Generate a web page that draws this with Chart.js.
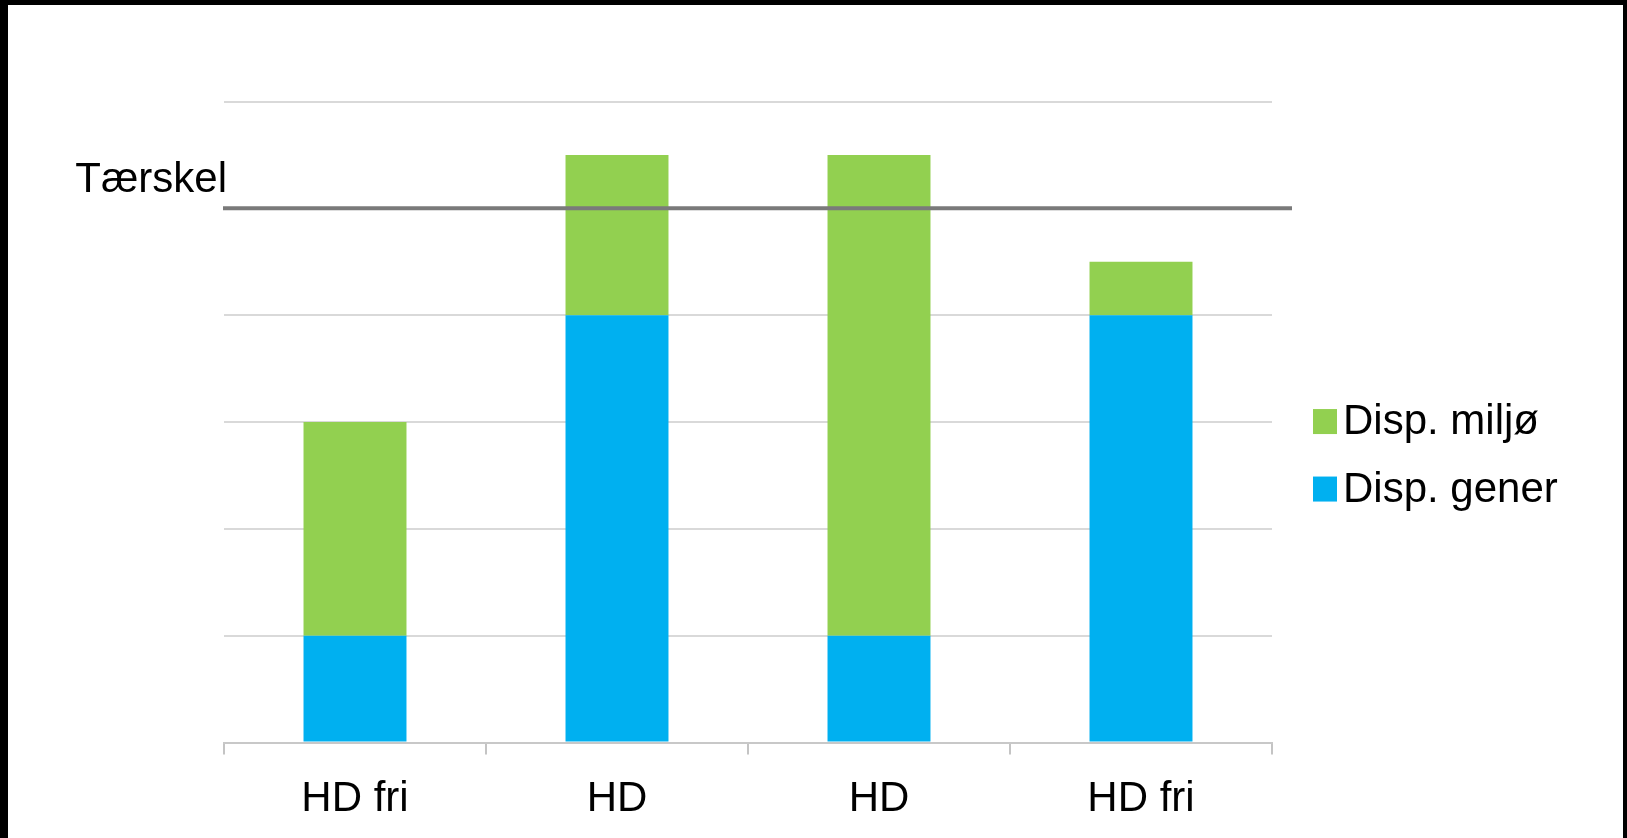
<!DOCTYPE html>
<html>
<head>
<meta charset="utf-8">
<script src="https://cdn.jsdelivr.net/npm/chart.js@4/dist/chart.umd.min.js"></script>
<style>
  html, body { margin: 0; padding: 0; background: #000; width: 1627px; height: 838px; overflow: hidden; }
  #frame { position: absolute; left: 8px; top: 5px; width: 1615px; height: 833px; background: #fff; overflow: hidden; }
  canvas { display: block; }
</style>
</head>
<body>
<div id="frame"><canvas id="c" width="1615" height="840"></canvas></div>
<script>
// ---- data ----
const categories = ['HD fri', 'HD', 'HD', 'HD fri'];
const dispGener = [1, 4, 1, 4];
const dispMiljo = [2, 1.5, 4.5, 0.5];
const seriesLabels = ['Disp. gener', 'Disp. miljø'];
const thresholdValue = [5];
const thresholdLabel = ['Tærskel'];
const yTicks = [0, 1, 2, 3, 4, 5, 6];

const BLUE = '#00B0F0';
const GREEN = '#92D050';
const FONT = "'Liberation Sans', Arial, sans-serif";

const thresholdPlugin = {
  id: 'threshold',
  afterDatasetsDraw(chart) {
    const { ctx, chartArea, scales } = chart;
    const y = scales.y.getPixelForValue(thresholdValue[0]);
    ctx.save();
    ctx.strokeStyle = '#7a7a7a';
    ctx.lineWidth = 4;
    ctx.beginPath();
    ctx.moveTo(chartArea.left - 1, y);
    ctx.lineTo(chartArea.right + 20, y);
    ctx.stroke();
    ctx.fillStyle = '#000';
    ctx.font = '42px ' + FONT;
    ctx.textAlign = 'right';
    ctx.textBaseline = 'alphabetic';
    ctx.fillText(thresholdLabel[0], chartArea.left + 3, y - 16);
    ctx.restore();
  }
};

const legendPlugin = {
  id: 'customLegend',
  afterDraw(chart) {
    const { ctx, chartArea } = chart;
    const ds = chart.data.datasets.slice().reverse();
    const cy = (chartArea.top + chartArea.bottom) / 2;
    const x0 = chartArea.right + 41;
    ctx.save();
    ctx.font = '42px ' + FONT;
    ctx.textAlign = 'left';
    ctx.textBaseline = 'alphabetic';
    ds.forEach((d, i) => {
      const base = cy + 12 + i * 67.5;
      ctx.fillStyle = d.backgroundColor;
      ctx.fillRect(x0, base - 25, 24, 25);
      ctx.fillStyle = '#000';
      ctx.fillText(d.label, x0 + 30, base);
    });
    ctx.restore();
  }
};

new Chart(document.getElementById('c'), {
  type: 'bar',
  data: {
    labels: categories,
    datasets: [
      { label: seriesLabels[0], data: dispGener, backgroundColor: BLUE, borderWidth: 0 },
      { label: seriesLabels[1], data: dispMiljo, backgroundColor: GREEN, borderWidth: 0 }
    ]
  },
  options: {
    responsive: false,
    devicePixelRatio: 1,
    animation: false,
    layout: { padding: { left: 216, right: 351, top: 96.5, bottom: 0 } },
    plugins: { legend: { display: false }, tooltip: { enabled: false }, title: { display: false } },
    datasets: { bar: { categoryPercentage: 1, barPercentage: 0.393 } },
    scales: {
      x: {
        stacked: true,
        grid: { offset: true, drawOnChartArea: false, drawTicks: true, tickLength: 12, color: '#c4c4c4', lineWidth: 2 },
        border: { display: true, color: '#c8c8c8', width: 2 },
        ticks: { color: '#000', padding: 20, font: { family: FONT, size: 42 }, maxRotation: 0, autoSkip: false }
      },
      y: {
        stacked: true,
        min: yTicks[0],
        max: yTicks[yTicks.length - 1],
        afterBuildTicks(scale) { scale.ticks = yTicks.map(v => ({ value: v })); },
        ticks: { display: false },
        grid: { color: '#d9d9d9', lineWidth: 2, drawTicks: false },
        border: { display: false }
      }
    }
  },
  plugins: [thresholdPlugin, legendPlugin]
});
</script>
</body>
</html>
